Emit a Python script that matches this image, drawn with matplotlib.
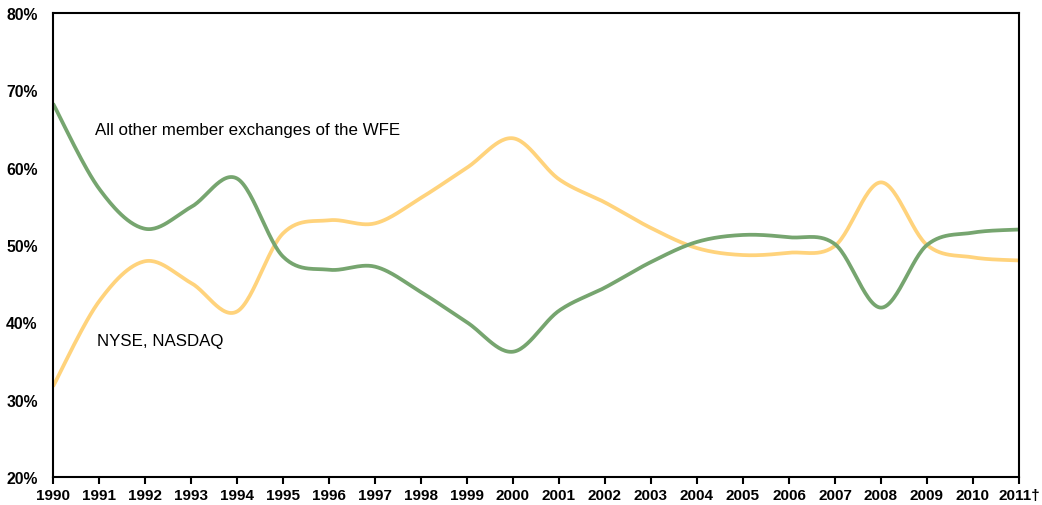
import matplotlib
matplotlib.use("Agg")
import matplotlib.pyplot as plt
import numpy as np
from matplotlib.ticker import FuncFormatter

plt.rcParams['font.family'] = ['Liberation Sans', 'DejaVu Sans']

years = list(range(1990, 2012))
year_labels = [str(y) for y in years[:-1]] + ['2011†']

# share of world market (%)
other_wfe = [68.3, 57.3, 52.1, 54.9, 58.6, 48.5, 46.8, 47.2, 43.9, 40.0, 36.2,
             41.5, 44.5, 47.8, 50.4, 51.3, 51.0, 50.1, 41.9, 50.0, 51.6, 52.0]
nyse_nasdaq = [31.7, 42.7, 47.9, 45.1, 41.4, 51.5, 53.2, 52.8, 56.1, 60.0, 63.8,
               58.5, 55.5, 52.2, 49.6, 48.7, 49.0, 49.9, 58.1, 50.0, 48.4, 48.0]


def smooth(x, y, n=30):
    # catmull-rom style smoothing like excel's smoothed line
    x = np.asarray(x, float)
    y = np.asarray(y, float)
    px = np.concatenate([[x[0]], x, [x[-1]]])
    py = np.concatenate([[y[0]], y, [y[-1]]])
    xs, ys = [], []
    t = np.linspace(0, 1, n)
    for i in range(1, len(px) - 2):
        p0 = np.array([px[i], py[i]])
        p3 = np.array([px[i + 1], py[i + 1]])
        c1 = p0 + (p3 - np.array([px[i - 1], py[i - 1]])) / 6
        c2 = p3 - (np.array([px[i + 2], py[i + 2]]) - p0) / 6
        pts = ((1 - t) ** 3)[:, None] * p0 + (3 * (1 - t) ** 2 * t)[:, None] * c1 \
            + (3 * (1 - t) * t ** 2)[:, None] * c2 + (t ** 3)[:, None] * p3
        xs.extend(pts[:, 0])
        ys.extend(pts[:, 1])
    return xs, ys


fig = plt.figure(figsize=(10.42, 5.06), dpi=100)
ax = fig.add_axes([53 / 1042, 1 - 478 / 506, (1019 - 53) / 1042, (478 - 14) / 506])

sx, sy = smooth(years, nyse_nasdaq)
ax.plot(sx, sy, color='#FFD37C', lw=2.7, solid_capstyle='butt')
sx, sy = smooth(years, other_wfe)
ax.plot(sx, sy, color='#76A56F', lw=2.7, solid_capstyle='butt')

ax.set_xlim(1990, 2011)
ax.set_ylim(20, 80)
ax.set_xticks(years)
ax.set_xticklabels(year_labels, fontsize=11, fontweight='bold')
ax.set_yticks(range(20, 81, 10))
ax.yaxis.set_major_formatter(FuncFormatter(lambda v, p: f'{v:.0f}%'))
for lab in ax.get_yticklabels():
    lab.set_fontsize(11.3)
    lab.set_fontweight('bold')
ax.tick_params(axis='x', direction='out', length=5, width=1.5, pad=3)
ax.tick_params(axis='y', length=0, pad=11)
for s in ax.spines.values():
    s.set_linewidth(1.5)
    s.set_color('black')

ax.text(0.0435, 0.748, 'All other member exchanges of the WFE', transform=ax.transAxes,
        fontsize=12.2, va='center', ha='left')
ax.text(0.0455, 0.295, 'NYSE, NASDAQ', transform=ax.transAxes,
        fontsize=12.2, va='center', ha='left')

fig.savefig('out.png', dpi=100)
